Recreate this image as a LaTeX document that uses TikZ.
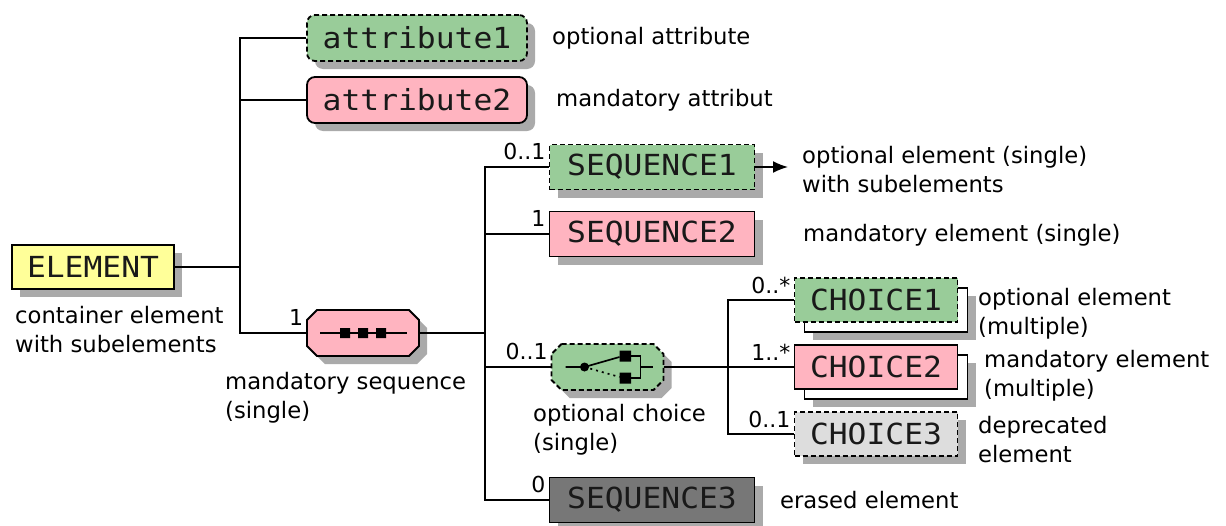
\documentclass[tikz,border=0pt]{standalone}
\usepackage{fontspec}
\setmainfont{DejaVu Sans}
\newfontfamily\boxfont[FakeStretch=1.08]{DejaVu Sans Mono}
\usetikzlibrary{shadows,arrows.meta}
\definecolor{optgreen}{RGB}{153,204,153}
\definecolor{manpink}{RGB}{255,180,192}
\definecolor{elemyellow}{RGB}{255,255,153}
\definecolor{depgray}{RGB}{221,221,221}
\definecolor{erasegray}{RGB}{119,119,119}
\definecolor{shadowgray}{RGB}{170,170,170}
\newcommand{\lblfont}{\fontsize{22.7}{29}\selectfont}
\newcommand{\multfont}{\fontsize{22}{24}\selectfont}
\tikzset{
  conn/.style={line width=1.7pt, draw=black},
  shad/.style={drop shadow={shadow xshift=8pt, shadow yshift=-8pt, fill=shadowgray, opacity=1}},
  dashline/.style={dash pattern=on 5pt off 3pt},
  boxbase/.style={draw=black, line width=1.8pt, inner sep=0pt, font=\boxfont\fontsize{29}{32}\selectfont, text=black!90},
  elembox/.style={boxbase, shad, fill=elemyellow, minimum width=162pt, minimum height=44pt},
  attrbox/.style={boxbase, shad, rounded corners=8pt, minimum width=220pt, minimum height=46pt},
  elbox/.style={boxbase, shad, minimum width=205pt, minimum height=45pt},
  chbox/.style={boxbase, minimum width=163pt, minimum height=44pt},
  multiback/.style={draw=black, line width=1.8pt, fill=white, shad, minimum width=163pt, minimum height=44pt, inner sep=0pt},
  compo/.style={inner sep=0pt, minimum width=113pt, minimum height=46pt},
  octo/.style={line width=1.8pt, draw=black, shad},
  lbl/.style={font=\lblfont, inner sep=0pt, anchor=west, align=left},
  mult/.style={font=\multfont, inner sep=0pt, anchor=base east}
}
\begin{document}
\begin{tikzpicture}[x=1pt, y=-1pt]
\path[use as bounding box, fill=white] (0,0) rectangle (1226,525);

% ELEMENT
\node[elembox] (element) at (93,267) {ELEMENT};
\node[lbl] (elementlbl) at (15,330) {container element\\with subelements};

% attributes
\node[attrbox, fill=optgreen, dashline] (att1) at (417,38) {attribute1};
\node[lbl] (att1lbl) at (552,38) {optional attribute};
\node[attrbox, fill=manpink] (att2) at (417,100) {attribute2};
\node[lbl] (att2lbl) at (556,100) {mandatory attribut};

% sequence compositor
\node[compo] (seq) at (363,333) {};
\draw[octo, fill=manpink, shift={(seq.center)}]
  (-46,-23) -- (46,-23) -- (56,-13) -- (56,13) -- (46,23) -- (-46,23) -- (-56,13) -- (-56,-13) -- cycle;
\draw[conn, shift={(seq.center)}] (-43,0) -- (44,0);
\fill[shift={(seq.center)}] (-23,-5) rectangle (-13,5) (-5,-5) rectangle (5,5) (13,-5) rectangle (23,5);
\node[lbl] (seqlbl) at (225,398) {mandatory sequence\\(single)};
\node[mult] (seqm) at ([shift={(-3,-8)}]seq.west) {1};

% sequence children
\node[elbox, fill=optgreen, dashline] (seq1) at (652,167) {SEQUENCE1};
\node[mult] (seq1m) at ([shift={(-3,-8)}]seq1.west) {0..1};
\coordinate (arrowend) at (788,167);
\draw[conn, -{Latex[length=15pt,width=12pt]}] (seq1.east) -- (arrowend);
\node[lbl] (seq1lbl) at (802,170) {optional element (single)\\with subelements};

\node[elbox, fill=manpink] (seq2) at (652,234) {SEQUENCE2};
\node[mult] (seq2m) at ([shift={(-3,-8)}]seq2.west) {1};
\node[lbl] (seq2lbl) at (803,235) {mandatory element (single)};

% choice compositor
\node[compo] (choice) at (607.5,367) {};
\draw[octo, fill=optgreen, dashline, shift={(choice.center)}]
  (-46,-23) -- (46,-23) -- (56,-13) -- (56,13) -- (46,23) -- (-46,23) -- (-56,13) -- (-56,-13) -- cycle;
\draw[conn, shift={(choice.center)}] (-42,0) -- (-23,0) -- (12,-10);
\fill[shift={(choice.center)}] (-23,0) circle (4.5);
\draw[line width=1.7pt, dash pattern=on 2pt off 4pt, shift={(choice.center)}] (-23,0) -- (12,10);
\fill[shift={(choice.center)}] (12,-16.5) rectangle (23.5,-5.5) (12,5.5) rectangle (23.5,16.5);
\draw[conn, shift={(choice.center)}] (23,-11) -- (33,-11) -- (33,11) -- (23,11) (33,0) -- (45,0);
\node[mult] (choicem) at ([shift={(-3,-8)}]choice.west) {0..1};
\node[lbl] (choicelbl) at (533,430) {optional choice\\(single)};

\node[elbox, fill=erasegray] (seq3) at (652,500) {SEQUENCE3};
\node[mult] (seq3m) at ([shift={(-3,-8)}]seq3.west) {0};
\node[lbl] (seq3lbl) at (780,500) {erased element};

% choices
\coordinate (c1pos) at (876,300);
\coordinate (c2pos) at (876,367);
\node[multiback] (choice1back) at ([shift={(10,10)}]c1pos) {};
\node[chbox, fill=optgreen, dashline] (choice1) at (c1pos) {CHOICE1};
\node[mult] (choice1m) at ([shift={(-3,-7)}]choice1.west) {0..*};
\node[lbl] (choice1lbl) at (978,314) {optional element\\(multiple)};

\node[multiback] (choice2back) at ([shift={(10,10)}]c2pos) {};
\node[chbox, fill=manpink] (choice2) at (c2pos) {CHOICE2};
\node[mult] (choice2m) at ([shift={(-3,-7)}]choice2.west) {1..*};
\node[lbl] (choice2lbl) at (984,376) {mandatory element\\(multiple)};

\node[chbox, shad, fill=depgray, dashline] (choice3) at (876,434) {CHOICE3};
\node[mult] (choice3m) at ([shift={(-3,-7)}]choice3.west) {0..1};
\node[lbl] (choice3lbl) at (978,440) {deprecated\\element};

% connectors
\coordinate (j1) at (240,267);
\coordinate (j2) at (485,333);
\coordinate (j3) at (728,367);
\draw[conn] (element.east) -- (j1);
\draw[conn] (j1) |- (att1.west);
\draw[conn] (j1) |- (att2.west);
\draw[conn] (j1) |- (seq.west);
\draw[conn] (seq.east) -- (j2);
\draw[conn] (j2) |- (seq1.west);
\draw[conn] (j2) |- (seq2.west);
\draw[conn] (j2) |- (choice.west);
\draw[conn] (j2) |- (seq3.west);
\draw[conn] (choice.east) -- (choice2.west);
\draw[conn] (j3) |- (choice1.west);
\draw[conn] (j3) |- (choice3.west);
\end{tikzpicture}
\end{document}
